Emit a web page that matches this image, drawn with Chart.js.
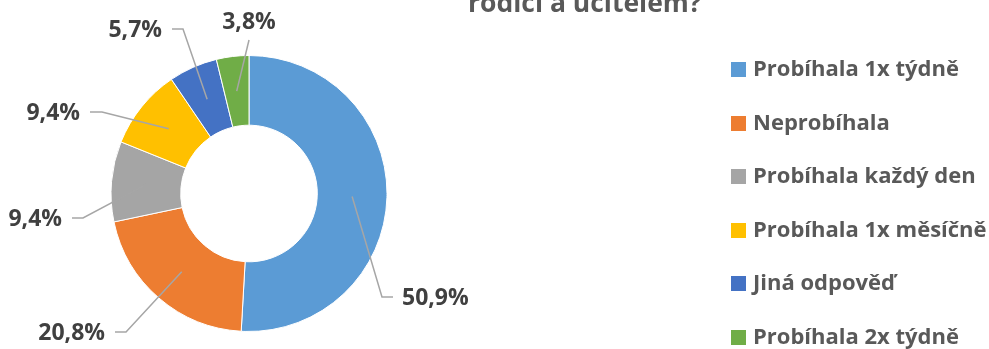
<!DOCTYPE html>
<html>
<head>
<meta charset="utf-8">
<script src="https://cdn.jsdelivr.net/npm/chart.js@4"></script>
<style>
  html, body { margin: 0; padding: 0; background: #fff; }
  #wrap { position: relative; width: 989px; height: 349px; overflow: hidden; }
  #chart { position: absolute; left: 0; top: 0; }
  .title { position: absolute; left: 468px; top: -16px; font: bold 26.5px "Open Sans", sans-serif; color: #595959; white-space: nowrap; line-height: 36px; }
  .legend { position: absolute; left: 731px; top: 0; font: bold 22px "Open Sans", sans-serif; color: #595959; }
  .legend div { position: absolute; left: 0; white-space: nowrap; height: 30px; line-height: 30px; }
  .legend span { display: inline-block; width: 15px; height: 15px; margin-right: 7px; vertical-align: -1px; }
</style>
</head>
<body>
<div id="wrap">
  <canvas id="chart" width="989" height="349"></canvas>
  <div class="title">rodiči a učitelem?</div>
  <div class="legend" id="legend"></div>
</div>
<script>
const categories = ['Probíhala 1x týdně', 'Neprobíhala', 'Probíhala každý den', 'Probíhala 1x měsíčně', 'Jiná odpověď', 'Probíhala 2x týdně'];
const shares = [50.9, 20.8, 9.4, 9.4, 5.7, 3.8];
const colors = ['#5B9BD5', '#ED7D31', '#A5A5A5', '#FFC000', '#4472C4', '#70AD47'];

// where each label's leader line bends, relative to the doughnut centre
const elbows = [
  { dx: 133, dy: 103.5, stub: 11 },
  { dx: -123, dy: 138.5, stub: -11 },
  { dx: -166, dy: 24.5, stub: -11 },
  { dx: -147, dy: -81.5, stub: -12 },
  { dx: -66, dy: -164.5, stub: -11 },
  { dx: 0, dy: -153.5, stub: 0 }
];

const leaderLabels = {
  id: 'leaderLabels',
  afterDatasetsDraw(chart) {
    const ctx = chart.ctx;
    const meta = chart.getDatasetMeta(0);
    ctx.save();
    ctx.font = 'bold 23px "Open Sans", sans-serif';
    ctx.fillStyle = '#404040';
    ctx.strokeStyle = '#A6A6A6';
    ctx.lineWidth = 1.5;
    meta.data.forEach((arc, i) => {
      const p = arc.getProps(['x', 'y', 'startAngle', 'endAngle', 'innerRadius', 'outerRadius'], true);
      const mid = (p.startAngle + p.endAngle) / 2;
      const r = (p.innerRadius + p.outerRadius) / 2;
      const sx = p.x + Math.cos(mid) * r;
      const sy = p.y + Math.sin(mid) * r;
      const e = elbows[i];
      const ex = p.x + e.dx, ey = p.y + e.dy;
      ctx.beginPath();
      ctx.moveTo(sx, sy);
      ctx.lineTo(ex, ey);
      ctx.lineTo(ex + e.stub, ey);
      ctx.stroke();
      const text = shares[i].toFixed(1).replace('.', ',') + '%';
      ctx.textBaseline = 'middle';
      if (e.stub > 0) {
        ctx.textAlign = 'left';
        ctx.fillText(text, ex + e.stub + 9, ey + 1);
      } else if (e.stub < 0) {
        ctx.textAlign = 'right';
        ctx.fillText(text, ex + e.stub - 10, ey + 1);
      } else {
        ctx.textAlign = 'center';
        ctx.fillText(text, ex, ey - 18);
      }
    });
    ctx.restore();
  }
};

new Chart(document.getElementById('chart'), {
  type: 'doughnut',
  data: {
    labels: categories,
    datasets: [{
      data: shares,
      backgroundColor: colors,
      borderColor: '#ffffff',
      borderWidth: 1
    }]
  },
  options: {
    responsive: false,
    animation: false,
    cutout: '49.5%',
    layout: { padding: { left: 110.5, right: 601.5, top: 55, bottom: 17 } },
    plugins: {
      legend: { display: false },
      tooltip: { enabled: false }
    }
  },
  plugins: [leaderLabels]
});

// legend on the right
const legendEl = document.getElementById('legend');
categories.forEach((name, i) => {
  const row = document.createElement('div');
  row.style.top = (52 + i * 53.6) + 'px';
  row.innerHTML = '<span style="background:' + colors[i] + '"></span>' + name;
  legendEl.appendChild(row);
});
</script>
</body>
</html>
